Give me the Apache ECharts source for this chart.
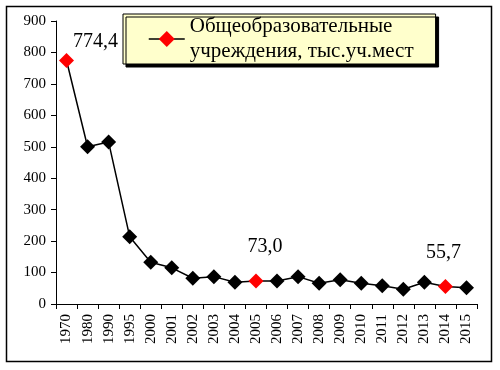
<!DOCTYPE html>
<html><head><meta charset="utf-8">
<script src="https://cdn.jsdelivr.net/npm/echarts@6/dist/echarts.min.js"></script>
<style>html,body{margin:0;padding:0;background:#fff}#c{width:500px;height:370px}</style>
</head><body><div id="c"></div>
<script>
const years = ['1970','1980','1990','1995','2000','2001','2002','2003','2004','2005','2006','2007','2008','2009','2010','2011','2012','2013','2014','2015'];
const values = [774.4,500,515,214,133,115,82,87,69,73.0,73,87,66,77,66,58,47,69,55.7,52];
const highlighted = ['1970','2005','2014'];
const labelOffsets = {'1970':[29,4],'2005':[9,-12],'2014':[-2,-11]};
const seriesName = 'Общеобразовательные\nучреждения, тыс.уч.мест';
const yTicks = {min:0,max:900,interval:100};

const serif = '"Liberation Serif","DejaVu Serif",serif';
const data = values.map((v,i)=>{
  const y = years[i];
  const hl = highlighted.includes(y);
  const item = {value:v, itemStyle:{color: hl ? '#ff0000' : '#000000'}};
  if (hl) {
    item.label = {show:true, position:'top', offset:labelOffsets[y], fontFamily:serif, fontSize:20, color:'#000',
      formatter: p => p.value.toFixed(1).replace('.', ',')};
  }
  return item;
});

const chart = echarts.init(document.getElementById('c'));
chart.setOption({
  animation:false,
  backgroundColor:'#fff',
  graphic:[{type:'rect', shape:{x:6.5,y:6.5,width:485,height:355}, style:{fill:'none',stroke:'#000',lineWidth:1.5}, z:-1}],
  grid:{left:56,right:23,top:21,bottom:66},
  legend:{
    left:123, top:14, itemGap:0,
    padding:[0,22,0,25],
    backgroundColor:'#ffffcc', borderColor:'#000', borderWidth:1,
    shadowColor:'#000', shadowOffsetX:3, shadowOffsetY:3, shadowBlur:0,
    itemWidth:36, itemHeight:20,
    textStyle:{fontFamily:serif, fontSize:21, color:'#000', lineHeight:25},
    data:[{name:seriesName, itemStyle:{color:'#ff0000'}, lineStyle:{color:'#000', width:1.5}}]
  },
  xAxis:{
    type:'category', data:years, boundaryGap:true,
    axisLine:{lineStyle:{color:'#000',width:1}},
    axisTick:{show:true,length:5,lineStyle:{color:'#000'}},
    axisLabel:{rotate:90, interval:0, fontFamily:serif, fontSize:15, color:'#000', margin:10}
  },
  yAxis:{
    type:'value', min:yTicks.min, max:yTicks.max, interval:yTicks.interval,
    axisLine:{show:true,lineStyle:{color:'#000',width:1}},
    axisTick:{show:true,length:5,lineStyle:{color:'#000'}},
    splitLine:{show:false},
    axisLabel:{fontFamily:serif, fontSize:15, color:'#000', margin:10}
  },
  series:[{
    name:seriesName, type:'line', data:data,
    symbol:'diamond', symbolSize:15,
    lineStyle:{color:'#000',width:1.5},
    itemStyle:{color:'#000'}
  }]
});
</script></body></html>
